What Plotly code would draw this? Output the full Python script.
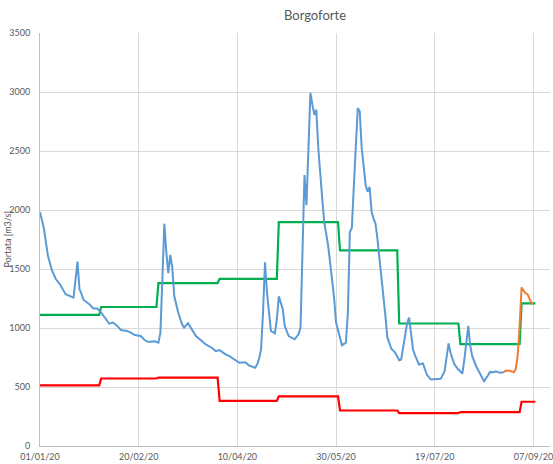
import pandas as pd
import plotly.graph_objects as go

base_date = "2020-01-01"

# Observed discharge (blue): day offset from 01/01/20 and value [m3/s]
obs_days = [0, 2, 4, 6, 8, 10, 13, 16, 17, 19, 20, 21, 22, 25, 27, 29, 31, 33, 35, 37, 39, 41, 44, 46, 48,
            51, 53, 55, 58, 60, 61, 62, 63, 64, 65, 66, 67, 68, 70, 72, 73, 75, 77, 79, 82, 84, 87, 89,
            91, 94, 96, 99, 101, 104, 106, 109, 110, 111, 112, 113, 114, 115, 116, 117, 119, 120, 121,
            123, 124, 126, 129, 131, 132, 133, 134, 135, 136, 137, 138, 139, 140, 141, 143, 144, 146,
            147, 148, 149, 150, 152, 153, 155, 156, 157, 158, 159, 160, 161, 162, 163, 165, 166, 167,
            168, 169, 170, 171, 172, 173, 174, 175, 176, 178, 180, 182, 183, 185, 186, 187, 188, 189,
            190, 192, 194, 196, 198, 201, 203, 205, 207, 208, 209, 210, 212, 214, 215, 217, 218, 219,
            221, 223, 225, 227, 228, 230, 231, 233, 235]
obs_vals = [1984, 1841, 1614, 1490, 1415, 1373, 1287, 1264, 1258, 1563, 1330, 1290, 1240, 1202, 1165,
            1165, 1131, 1085, 1037, 1046, 1020, 983, 975, 961, 940,
            932, 898, 881, 887, 875, 961, 1415, 1884, 1643, 1464, 1620, 1515, 1273, 1131, 1032, 1003,
            1040, 989, 932, 889, 861, 833, 804,
            813, 776, 761, 725, 705, 710, 682, 662, 690, 740, 818, 1131, 1557, 1302, 1102, 975, 955,
            1074, 1268,
            1159, 1017, 932, 904, 946, 1003, 1800, 2296, 2040, 2581, 2992, 2893, 2807, 2850, 2523,
            2097, 1898, 1699,
            1560, 1380, 1260, 1046, 918, 853, 876, 1131, 1813, 1847, 2200, 2500, 2864, 2836, 2523,
            2211, 2154, 2197,
            1984, 1927, 1884, 1750, 1600, 1443, 1250, 1102, 920, 824, 790, 727, 733, 932, 1040, 1089,
            961, 818,
            770, 691, 699, 605, 563, 569, 569, 633, 870, 790, 730, 691, 648, 614, 733, 1017, 847, 761,
            676, 605, 548, 600, 628, 625, 633, 620, 625]

# Forecast / recent discharge (orange)
fc_days = [235, 236, 238, 240, 241, 242, 243, 244, 245, 246, 247, 248, 249, 250]
fc_vals = [625, 639, 637, 625, 650, 761, 1017, 1344, 1316, 1295, 1287, 1250, 1211, 1202]

# Monthly reference values (green and red step lines)
month_starts = ["2020-01-01", "2020-02-01", "2020-03-01", "2020-04-01", "2020-05-01",
                "2020-06-01", "2020-07-01", "2020-08-01", "2020-09-01"]
green_vals = [1111, 1178, 1381, 1417, 1898, 1657, 1038, 864, 1208]
red_vals = [514, 572, 580, 382, 421, 301, 279, 287, 375]
series_end = "2020-09-08"

# Axis ticks
tick_days = [0, 50, 100, 150, 200, 250]
tick_labels = ["01/01/20", "20/02/20", "10/04/20", "30/05/20", "19/07/20", "07/09/20"]

b = pd.Timestamp(base_date)
to_date = lambda ds: [b + pd.Timedelta(days=d) for d in ds]


def monthly_steps(starts, vals, end):
    xs, ys = [], []
    st = [pd.Timestamp(s) for s in starts]
    e = pd.Timestamp(end)
    for i, v in enumerate(vals):
        s = st[i]
        last = (st[i + 1] - pd.Timedelta(days=1)) if i + 1 < len(st) else e
        xs += [s, last]
        ys += [v, v]
    return xs, ys


gx, gy = monthly_steps(month_starts, green_vals, series_end)
rx, ry = monthly_steps(month_starts, red_vals, series_end)

fig = go.Figure()
fig.add_trace(go.Scatter(x=gx, y=gy, mode="lines", line=dict(color="#00B050", width=2.2)))
fig.add_trace(go.Scatter(x=rx, y=ry, mode="lines", line=dict(color="#FF0000", width=2.2)))
fig.add_trace(go.Scatter(x=to_date(fc_days), y=fc_vals, mode="lines",
                         line=dict(color="#ED7D31", width=2)))
fig.add_trace(go.Scatter(x=to_date(obs_days), y=obs_vals, mode="lines",
                         line=dict(color="#5B9BD5", width=2)))

W, H = 553, 464
font_fam = "Lato, 'Open Sans', sans-serif"
fig.update_layout(
    width=W, height=H,
    margin=dict(l=40, r=3, t=33, b=18, autoexpand=False),
    paper_bgcolor="white", plot_bgcolor="white",
    showlegend=False, hovermode=False,
    font=dict(family=font_fam, color="#595959", size=9),
    title=dict(text="Borgoforte", x=315 / W, xref="container", xanchor="center",
               y=1 - 15 / H, yref="container", yanchor="middle",
               font=dict(size=13, color="#595959", family=font_fam)),
    annotations=[dict(text="Portata [m3/s]", textangle=-90, xref="paper", yref="paper",
                      x=0, y=0.5, xanchor="center", yanchor="middle", xshift=-33,
                      showarrow=False, font=dict(size=9, color="#595959"))],
)
fig.update_xaxes(
    type="date", automargin=False,
    range=[b, b + pd.Timedelta(days=258.4)],
    tickvals=to_date(tick_days), ticktext=tick_labels,
    showgrid=True, gridcolor="#D9D9D9", gridwidth=1,
    showline=True, linecolor="#BFBFBF", linewidth=1,
    ticks="", zeroline=False,
    tickfont=dict(size=9, color="#595959"),
    ticklabelstandoff=2, ticklabeloverflow="allow",
)
fig.update_yaxes(
    range=[0, 3500], dtick=500, automargin=False,
    showgrid=True, gridcolor="#D9D9D9", gridwidth=1,
    showline=True, linecolor="#BFBFBF", linewidth=1,
    ticks="", zeroline=False,
    tickfont=dict(size=9, color="#595959"),
    ticklabelstandoff=7,
)

fig.write_html("out.html", config={"displayModeBar": False},
               post_script="document.body.style.margin='0';")
